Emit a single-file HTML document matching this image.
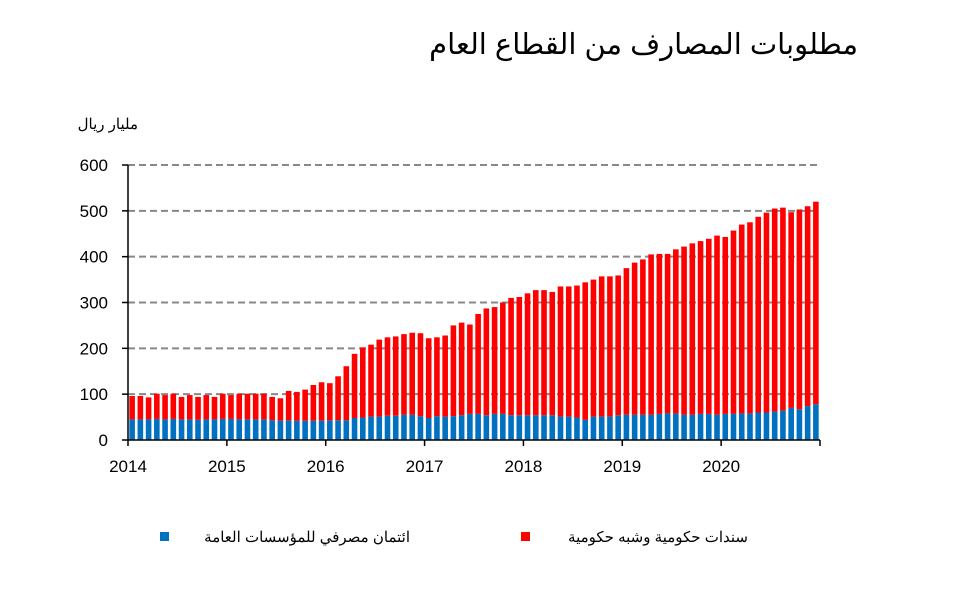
<!DOCTYPE html>
<html><head><meta charset="utf-8">
<style>
body{margin:0;background:#fff;}
#wrap{position:relative;width:970px;height:592px;overflow:hidden;font-family:"Liberation Sans","Noto Sans CJK SC",sans-serif;}
</style></head>
<body>
<div id="wrap">
<svg id="chart" width="970" height="592" font-family="Liberation Sans, Noto Sans CJK SC, sans-serif">
<text x="858" y="54" font-size="29" text-anchor="end" fill="#000">مطلوبات المصارف من القطاع العام</text>
<text x="138" y="129" font-size="15" text-anchor="end" fill="#000">مليار ريال</text>
<g id="grid"></g><g id="bars"></g><g id="axes"></g>
<rect x="160" y="532" width="9" height="9" fill="#0070c0"/>
<text x="410" y="542" font-size="15" text-anchor="end">ائتمان مصرفي للمؤسسات العامة</text>
<rect x="521" y="532" width="9" height="9" fill="#ff0000"/>
<text x="748" y="542" font-size="15" text-anchor="end">سندات حكومية وشبه حكومية</text>
</svg>
</div>
<script>
const years=["2014","2015","2016","2017","2018","2019","2020"];
const yTicks=[0,100,200,300,400,500,600];
const bankCredit=[45,45,45,46,45,46,45,45,44,45,45,46,
46,45,45,45,45,43,42,43,42,42,42,42,
43,43,43,48,49,51,51,53,53,55,55,52,
48,52,51,52,54,57,57,54,57,57,54,54,
54,54,54,54,51,51,49,44,51,51,51,54,
55,55,55,55,57,58,58,55,55,57,57,55,
57,57,58,58,60,60,62,64,70,67,74,78];
const govBonds=[51,51,48,55,53,55,49,53,50,53,49,55,
52,56,56,56,56,51,49,64,63,68,78,84,
81,96,118,140,153,157,168,171,173,176,179,181,
174,172,177,198,202,195,218,233,233,243,256,258,
266,273,273,269,284,284,288,300,299,306,306,305,
320,332,339,350,349,348,358,367,374,377,382,391,
386,400,412,417,427,436,443,443,427,436,436,442];
const NS="http://www.w3.org/2000/svg";
const X0=128,X1=820,Y0=440,Y1=165,YMAX=600;
const n=bankCredit.length;
const step=(X1-X0)/n;
function y(v){return Y0-(v/YMAX)*(Y0-Y1);}
function xb(i){return X0+i*step;}
function mk(tag,attrs,parent){const e=document.createElementNS(NS,tag);for(const k in attrs)e.setAttribute(k,attrs[k]);parent.appendChild(e);return e;}
const grid=document.getElementById('grid'),bars=document.getElementById('bars'),axes=document.getElementById('axes');
yTicks.forEach(t=>{
  if(t>0){const l=mk('line',{x1:X0,x2:X1,y1:y(t),y2:y(t),stroke:'#888','stroke-width':2,'stroke-dasharray':'7,4'},grid);
  
  }
  const tk=mk('line',{x1:X0-6,x2:X0,y1:y(t),y2:y(t),stroke:'#000','stroke-width':1.5},axes);
  
  
  const tx=mk('text',{x:X0-20,y:y(t)+6,'font-size':17,'text-anchor':'end'},axes);
  tx.textContent=t;
  
  
});
const bw=step*0.68;
for(let i=0;i<n;i++){
  const x=xb(i)+(step-bw)/2;
  const b=bankCredit[i],g=govBonds[i];
  const rb=mk('rect',{x:x,y:y(b),width:bw,height:Y0-y(b),fill:'#0070c0'},bars);
  
  
  const rg=mk('rect',{x:x,y:y(b+g),width:bw,height:y(b)-y(b+g),fill:'#ff0000'},bars);
  
  
}
const ya=mk('line',{x1:X0,x2:X0,y1:Y1,y2:Y0,stroke:'#000','stroke-width':1.5},axes);


const xa=mk('line',{x1:X0,x2:X1,y1:Y0,y2:Y0,stroke:'#000','stroke-width':1.5},axes);


for(let k=0;k<=years.length;k++){
  const xx=X0+k*12*step;
  const t=mk('line',{x1:xx,x2:xx,y1:Y0,y2:Y0+6,stroke:'#000','stroke-width':1.5},axes);
  
  
  if(k<years.length){
    const tx=mk('text',{x:xx,y:Y0+32,'font-size':17,'text-anchor':'middle'},axes);
    tx.textContent=years[k];
    
    
  }
}
</script>
</body></html>
